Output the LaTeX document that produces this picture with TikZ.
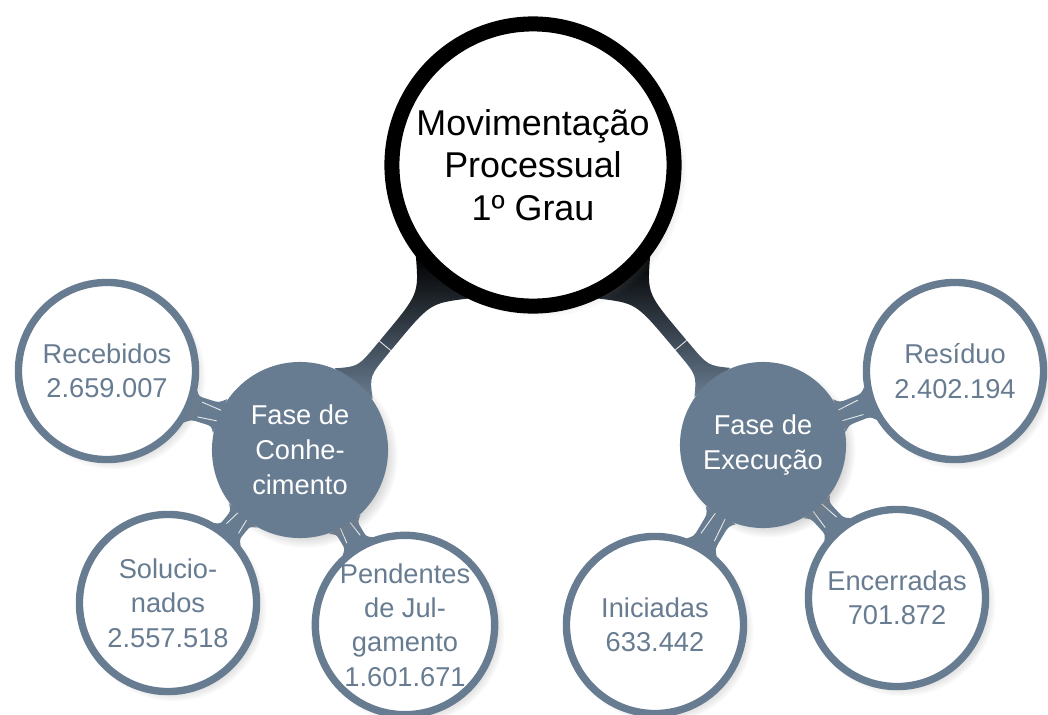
\documentclass[tikz,border=0pt]{standalone}
\usepackage{fontspec}
\setmainfont{Liberation Sans}
\usetikzlibrary{calc,backgrounds,shadows}

\definecolor{slate}{RGB}{104,124,145}

\tikzset{
  rootnode/.style={circle, draw=black, fill=white, line width=4.27pt, minimum size=2.82cm, inner sep=0pt, align=center,
    font=\fontsize{10.2}{12}\selectfont, circular drop shadow={shadow scale=1.04, shadow xshift=2pt, shadow yshift=-1.5pt, opacity=0.35}},
  fasenode/.style={circle, fill=slate, text=white, inner sep=0pt, align=center,
    font=\fontsize{7.75}{9.9}\selectfont, circular drop shadow={shadow scale=1.05, shadow xshift=1.5pt, shadow yshift=-1.5pt, opacity=0.35}},
  leafnode/.style={circle, draw=slate, fill=white, text=slate, line width=2.1pt, minimum size=1.77cm, inner sep=0pt, align=center,
    font=\fontsize{7.75}{9.8}\selectfont, circular drop shadow={shadow scale=1.05, shadow xshift=1.5pt, shadow yshift=-1.5pt, opacity=0.35}},
  rootbar/.style={top color=black, middle color=black!80!slate, bottom color=slate},
  leafbar/.style={fill=slate},
  streak/.style={white, line width=0.25pt, opacity=0.85}
}

\begin{document}
\begin{tikzpicture}[x=0.01cm, y=-0.01cm]
    \useasboundingbox (0,0) rectangle (1048,715);

    %%% concepts %%%
    \node[rootnode] (root) at (533,165) {Movimentação\\Processual\\1º Grau};

    \node[fasenode, minimum size=1.76cm] (conh) at (300,450) {Fase de\\Conhe-\\cimento};
    \node[fasenode, minimum size=1.66cm] (exec) at (763,445) {Fase de\\Execução};

    % left side
    \node[leafnode] (rec) at (107,371) {Recebidos\\2.659.007};
    \node[leafnode] (sol) at (168,603) {Solucio-\\nados\\2.557.518};
    \node[leafnode] (pend) at (405,625) {Pendentes\\de Jul-\\gamento\\1.601.671};
    % right side
    \node[leafnode] (res) at (955,371) {Resíduo\\2.402.194};
    \node[leafnode] (ini) at (655,625) {Iniciadas\\633.442};
    \node[leafnode] (enc) at (897,598) {Encerradas\\701.872};

    %%% connection bars %%%
    \begin{scope}[on background layer]
    % from/to/angle/flare angle at from/at to/half width/flare length at from/at to/style
    \foreach \src/\dst/\ang/\da/\db/\w/\fa/\fb/\col in {root/conh/231/13/16/2.1pt/0.6/0.32/rootbar, root/exec/309/13/16/2.1pt/0.6/0.32/rootbar,
        conh/rec/157/12/11/3.5pt/0.4/0.4/leafbar, conh/sol/229/12/11/3.5pt/0.4/0.4/leafbar, conh/pend/301/12/11/3.5pt/0.4/0.4/leafbar,
        exec/res/21/12/11/3.5pt/0.4/0.4/leafbar, exec/ini/239/12/11/3.5pt/0.4/0.4/leafbar, exec/enc/311/12/11/3.5pt/0.4/0.4/leafbar}{
        \pgfmathtruncatemacro\bng{\ang+180}
        \pgfmathtruncatemacro\aP{\ang+\da}
        \pgfmathtruncatemacro\aM{\ang-\da}
        \pgfmathtruncatemacro\bP{\bng-\db}
        \pgfmathtruncatemacro\bM{\bng+\db}
        \pgfmathsetmacro\ca{0.3*\fa}
        \pgfmathsetmacro\cb{0.3*\fb}
        \coordinate (s) at ($(\src.\ang)!\fa!(\dst.\bng)$);
        \coordinate (t) at ($(\dst.\bng)!\fb!(\src.\ang)$);
        \coordinate (cs) at ($(\src.\ang)!\ca!(\dst.\bng)$);
        \coordinate (ct) at ($(\dst.\bng)!\cb!(\src.\ang)$);
        \path[\col] (\src.\aP) .. controls ($(cs)!\w!90:(t)$) .. ($(s)!\w!90:(t)$)
            -- ($(t)!\w!-90:(s)$) .. controls ($(ct)!\w!-90:(s)$) .. (\dst.\bP)
            -- (\dst.\bM) .. controls ($(ct)!\w!90:(s)$) .. ($(t)!\w!90:(s)$)
            -- ($(s)!\w!-90:(t)$) .. controls ($(cs)!\w!-90:(t)$) .. (\src.\aM) -- cycle;
    }
    % tick across the two main bars
    \foreach \dst/\ang in {conh/231, exec/309}{
        \pgfmathtruncatemacro\bng{\ang+180}
        \coordinate (m) at ($(root.\ang)!0.65!(\dst.\bng)$);
        \draw[streak] ($(m)!2.1pt!90:(\dst.\bng)$) -- ($(m)!2.1pt!-90:(\dst.\bng)$);
    }
    % highlights on the short bars
    \foreach \src/\dst/\ang in {conh/rec/157, conh/sol/229, conh/pend/301, exec/res/21, exec/ini/239, exec/enc/311}{
        \pgfmathtruncatemacro\bng{\ang+180}
        \coordinate (p) at ($(\src.\ang)!-0.05!(\dst.\bng)$);
        \coordinate (q) at ($(\src.\ang)!0.7!(\dst.\bng)$);
        \draw[streak] ($(p)!1.6pt!90:(q)$) -- ($(q)!2.2pt!-90:(p)$);
        \draw[streak] ($(p)!1.6pt!-90:(q)$) -- ($(q)!2.2pt!90:(p)$);
    }
    \end{scope}
\end{tikzpicture}
\end{document}
